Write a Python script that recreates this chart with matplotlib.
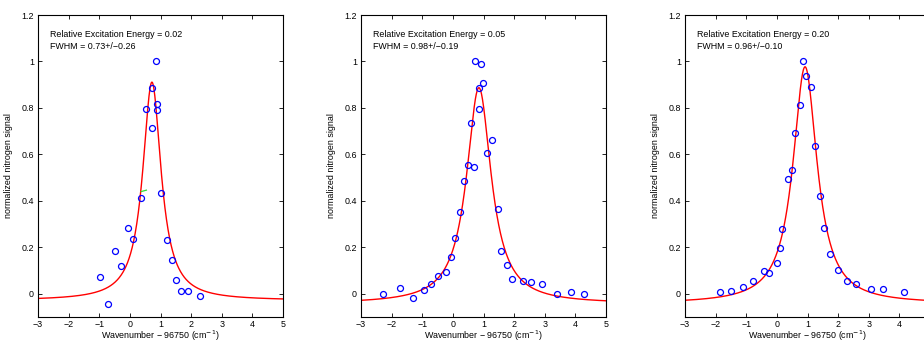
import numpy as np
import matplotlib
matplotlib.use("Agg")
import matplotlib.pyplot as plt

plt.rcParams["font.family"] = ["Liberation Sans", "DejaVu Sans"]
plt.rcParams["font.size"] = 6.4

# measured points, one set per panel (x = wavenumber - 96750, y = normalized signal)
x_p1 = [-0.97, -0.72, -0.49, -0.30, -0.07, 0.11, 0.36, 0.52, 0.71, 0.72, 0.84,
        0.90, 0.90, 1.00, 1.20, 1.37, 1.50, 1.68, 1.91, 2.28]
y_p1 = [0.072, -0.045, 0.184, 0.120, 0.281, 0.235, 0.413, 0.794, 0.885, 0.714, 1.00,
        0.818, 0.791, 0.434, 0.233, 0.147, 0.058, 0.012, 0.012, -0.011]

x_p2 = [-2.27, -1.74, -1.31, -0.95, -0.72, -0.48, -0.23, -0.05, 0.06, 0.24, 0.36,
        0.48, 0.60, 0.68, 0.72, 0.84, 0.85, 0.92, 0.98, 1.10, 1.27, 1.46, 1.58,
        1.76, 1.94, 2.30, 2.54, 2.91, 3.39, 3.87, 4.29]
y_p2 = [-0.001, 0.023, -0.017, 0.017, 0.042, 0.077, 0.095, 0.159, 0.240, 0.350, 0.486,
        0.555, 0.735, 0.544, 1.00, 0.795, 0.887, 0.991, 0.907, 0.604, 0.663, 0.367, 0.184,
        0.125, 0.062, 0.056, 0.050, 0.040, 0.000, 0.006, -0.001]

x_p3 = [-1.87, -1.51, -1.09, -0.79, -0.42, -0.25, -0.01, 0.11, 0.16, 0.35, 0.48,
        0.59, 0.77, 0.84, 0.95, 1.13, 1.26, 1.42, 1.55, 1.73, 1.98, 2.28, 2.58,
        3.07, 3.48, 4.14]
y_p3 = [0.006, 0.013, 0.029, 0.053, 0.099, 0.089, 0.133, 0.198, 0.280, 0.496, 0.534,
        0.692, 0.812, 1.00, 0.937, 0.890, 0.637, 0.419, 0.284, 0.171, 0.103, 0.056, 0.044,
        0.019, 0.022, 0.006]

# Lorentzian fit parameters per panel: centre, FWHM, amplitude, baseline
fit_center = [0.72, 0.85, 0.92]
fit_fwhm = [0.73, 0.98, 0.96]
fit_amp = [0.94, 0.93, 1.02]
fit_base = [-0.029, -0.043, -0.043]

energies = ["0.02", "0.05", "0.20"]
fwhm_text = ["0.73+/\u22120.26", "0.98+/\u22120.19", "0.96+/\u22120.10"]

xs_data = [x_p1, x_p2, x_p3]
ys_data = [y_p1, y_p2, y_p3]


def lorentz(x, x0, fwhm, amp, base):
    return base + amp / (1 + ((x - x0) / (fwhm / 2)) ** 2)


fig = plt.figure(figsize=(9.24, 3.43), dpi=100)
lefts = [38, 361, 685]
W, H = 924.0, 343.0
xticks = list(range(-3, 6))

for i in range(3):
    ax = fig.add_axes([lefts[i] / W, 26 / H, 245 / W, 302 / H])
    xx = np.linspace(-3, 5, 800)
    ax.plot(xx, lorentz(xx, fit_center[i], fit_fwhm[i], fit_amp[i], fit_base[i]),
            color="red", lw=1.0)
    ax.plot(xs_data[i], ys_data[i], "o", mfc="none", mec="blue", ms=4.3, mew=0.9)
    if i == 0:
        # small green mark left of the peak
        ax.plot([0.37, 0.54], [0.440, 0.446], color="#33dd33", lw=0.9)
    ax.set_xlim(-3, 5)
    ax.set_ylim(-0.1, 1.2)
    ax.set_xticks(xticks)
    labels = ["\u2212%d" % -t if t < 0 else "%d" % t for t in xticks]
    if i == 2:
        labels[-1] = ""  # last label falls outside the cropped figure
    ax.set_xticklabels(labels)
    ax.set_yticks([0, 0.2, 0.4, 0.6, 0.8, 1, 1.2])
    ax.set_yticklabels(["0", "0.2", "0.4", "0.6", "0.8", "1", "1.2"])
    ax.tick_params(direction="in", top=True, right=True, length=3, width=0.6,
                   labelsize=6.4, pad=3)
    ax.tick_params(axis="x", pad=2)
    for s in ax.spines.values():
        s.set_linewidth(0.8)
    ax.set_xlabel("Wavenumber \u2212 96750 (cm$^{-1}$)", fontsize=6.4, labelpad=0)
    ax.set_ylabel("normalized nitrogen signal", fontsize=6.4, labelpad=6)
    ax.text(0.047, 0.926, "Relative Excitation Energy = " + energies[i],
            transform=ax.transAxes, fontsize=6.4)
    ax.text(0.047, 0.889, "FWHM = " + fwhm_text[i], transform=ax.transAxes,
            fontsize=6.4)

fig.savefig("out.png", dpi=100)
